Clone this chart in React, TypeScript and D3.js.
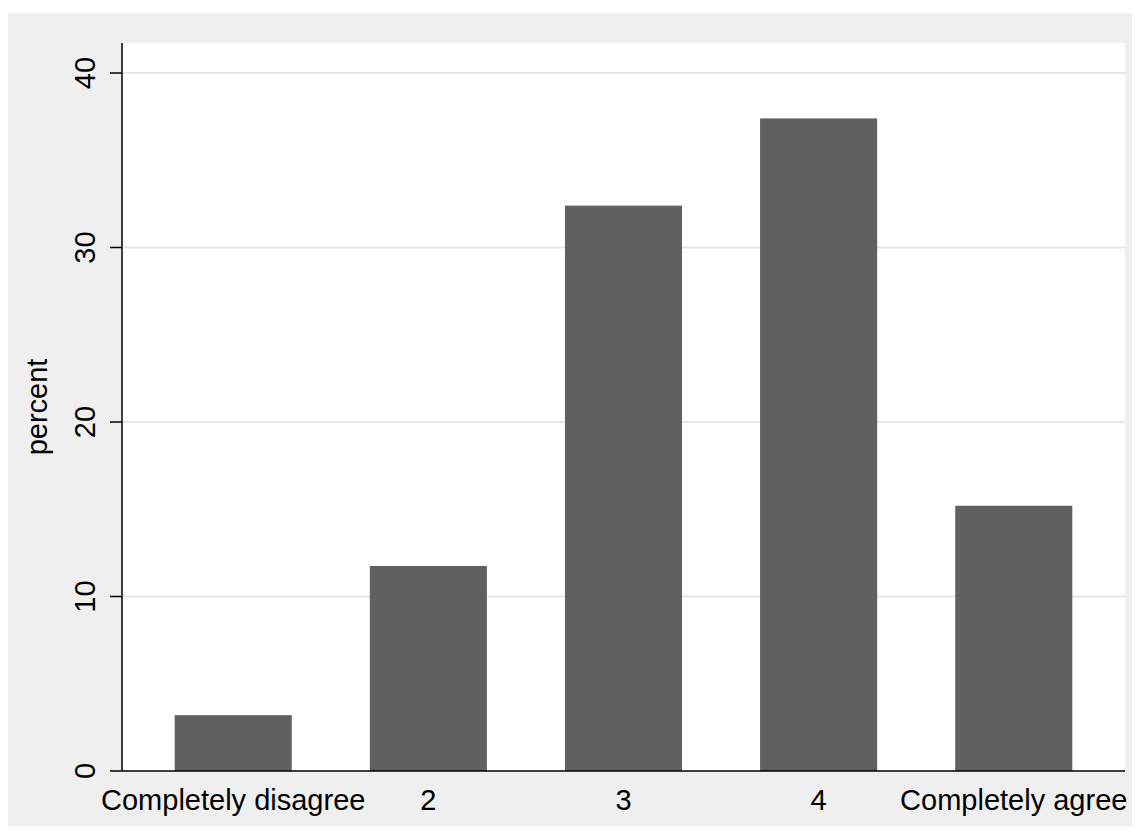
import React from "react";
import * as d3 from "d3";

const categories = ["Completely disagree", "2", "3", "4", "Completely agree"];
const percents = [3.2, 11.75, 32.4, 37.4, 15.2];
const yTicks = [0, 10, 20, 30, 40];

export default function App() {
  const W = 1124, H = 813;
  const left = 114, right = 1117, top = 30, bottom = 758;
  const x = d3.scaleBand<string>().domain(categories).range([left, right]).paddingInner(0.4).paddingOuter(0.27);
  const y = d3.scaleLinear().domain([0, 40]).range([bottom, bottom - 698]);
  const font = "Arial, 'Liberation Sans', Helvetica, sans-serif";
  return (
    <svg width={W} height={H} style={{ display: "block", marginTop: 5 }} fontFamily={font}>
      <rect x={0} y={0} width={W} height={H} fill="#efefef" />
      <rect x={left} y={top} width={right - left} height={bottom - top} fill="#ffffff" />
      {yTicks.filter(t => t > 0).map(t => (
        <line key={"g" + t} x1={left} x2={right} y1={y(t)} y2={y(t)} stroke="#e6e6e6" strokeWidth={2} />
      ))}
      {categories.map((c, i) => (
        <rect key={c} x={x(c)} y={y(percents[i])} width={x.bandwidth()} height={y(0) - y(percents[i])} fill="#606060" />
      ))}
      <line x1={left} x2={left} y1={top} y2={bottom} stroke="#000" strokeWidth={1.5} />
      <line x1={left} x2={right} y1={bottom} y2={bottom} stroke="#000" strokeWidth={1.5} />
      {yTicks.map(t => (
        <g key={"t" + t}>
          <line x1={left - 12} x2={left} y1={y(t)} y2={y(t)} stroke="#000" strokeWidth={1.5} />
          <text transform={`translate(${left - 27},${y(t)}) rotate(-90)`} textAnchor="middle" fontSize={29} fill="#000">{t}</text>
        </g>
      ))}
      <text transform={`translate(39,${(top + bottom) / 2}) rotate(-90)`} textAnchor="middle" fontSize={29} fill="#000">percent</text>
      {categories.map(c => (
        <text key={"l" + c} x={(x(c) as number) + x.bandwidth() / 2} y={bottom + 39} textAnchor="middle" fontSize={29} fill="#000">{c}</text>
      ))}
    </svg>
  );
}
